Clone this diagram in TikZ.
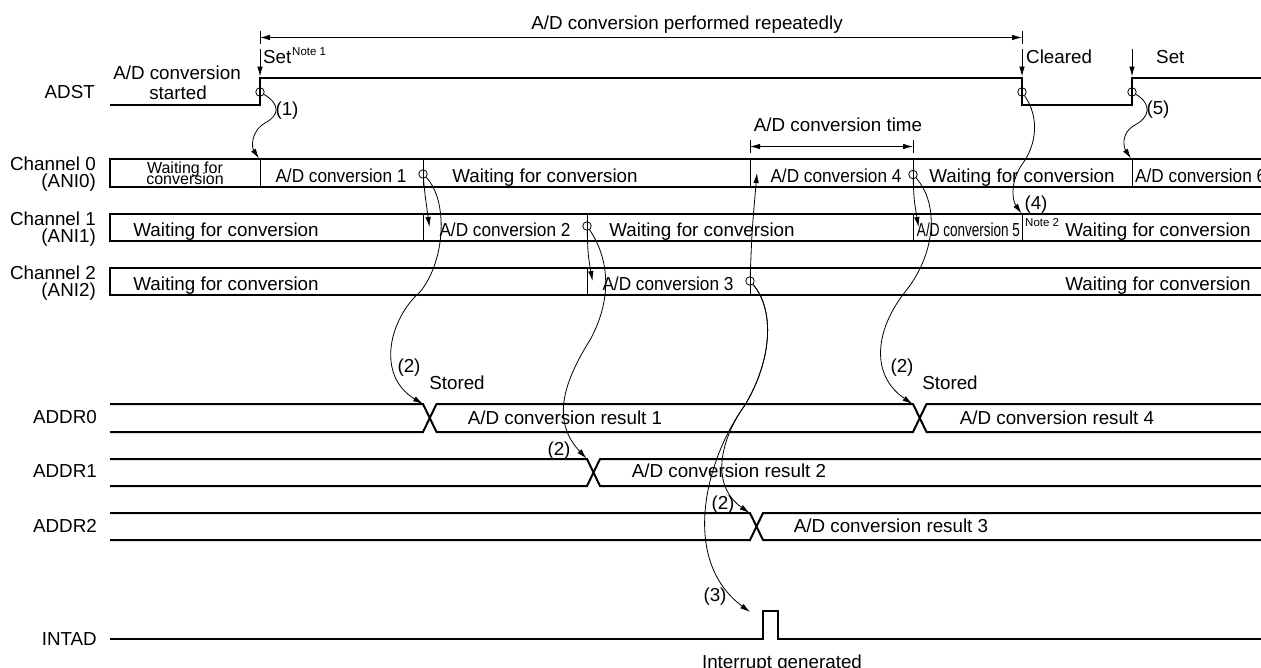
\documentclass[tikz,border=0pt]{standalone}
\usepackage{fontspec}
\setmainfont{Liberation Sans}
\usetikzlibrary{arrows.meta}
\newcommand\cvx[2]{\scalebox{#1}[1]{#2}}
\tikzset{
 sig/.style={line width=2pt, line join=miter},
 div/.style={line width=0.8pt},
 crv/.style={line width=0.8pt},
 tip/.style={-{Latex[length=10pt,width=5.5pt]}},
 tips/.style={{Latex[length=10pt,width=5.5pt]}-{Latex[length=10pt,width=5.5pt]}},
 cir/.style={circle, draw, line width=0.8pt, minimum size=8.5pt, inner sep=0pt},
 txt/.style={inner sep=0pt, font=\fontsize{18.8}{20}\selectfont, text height=13.5pt, text depth=0pt},
 lab/.style={txt, anchor=east},
 sm/.style={inner sep=0pt, font=\fontsize{11.5}{12}\selectfont, text height=8.2pt, text depth=0pt},
 wsm/.style={inner sep=0pt, font=\fontsize{16}{11}\selectfont, text height=11.5pt, text depth=0pt},
}
\begin{document}
\begin{tikzpicture}[x=1pt,y=-1pt]
\useasboundingbox (0,0) rectangle (1261,667);

% ---------- left labels
\node[lab] (lADST) at (95,91.5) {ADST};
\node[lab] (lC0a) at (96,164) {Channel 0};
\node[lab] (lC0b) at (96,181) {(ANI0)};
\node[lab] (lC1a) at (96,218.5) {Channel 1};
\node[lab] (lC1b) at (96,235.5) {(ANI1)};
\node[lab] (lC2a) at (96,273) {Channel 2};
\node[lab] (lC2b) at (96,290) {(ANI2)};
\node[lab] (lA0) at (97,417) {ADDR0};
\node[lab] (lA1) at (97,471) {ADDR1};
\node[lab] (lA2) at (97,526) {ADDR2};
\node[lab] (lINT) at (97,639) {INTAD};

% ---------- signals
\draw[sig] (110,105) -- (260,105) -- (260,77.5) -- (1022,77.5) -- (1022,105) -- (1132,105) -- (1132,77.5) -- (1265,77.5);
\draw[sig] (1265,159) -- (110,159) -- (110,187) -- (1265,187);
\draw[sig] (1265,214) -- (110,214) -- (110,241) -- (1265,241);
\draw[sig] (1265,268) -- (110,268) -- (110,295) -- (1265,295);
% channel dividers
\foreach \x in {260,423,750,913,1132} \draw[div] (\x,159) -- (\x,187);
\foreach \x in {423,587,913,1022} \draw[div] (\x,214) -- (\x,241);
\foreach \x in {587,750} \draw[div] (\x,268) -- (\x,295);
% ADDR buses
\draw[sig] (110,404) -- (423,404) -- (436.5,432) -- (913,432) -- (926.5,404) -- (1265,404);
\draw[sig] (110,432) -- (423,432) -- (436.5,404) -- (913,404) -- (926.5,432) -- (1265,432);
\draw[sig] (110,459) -- (587,459) -- (600,486) -- (1265,486);
\draw[sig] (110,486) -- (587,486) -- (600,459) -- (1265,459);
\draw[sig] (110,513) -- (750,513) -- (763,540) -- (1265,540);
\draw[sig] (110,540) -- (750,540) -- (763,513) -- (1265,513);
% INTAD
\draw[sig] (110,639) -- (763,639) -- (763,611) -- (778,611) -- (778,639) -- (1265,639);

% ---------- top annotations
\node[txt] (title) at (687,23) {A/D conversion performed repeatedly};
\coordinate (rL) at (260,37.5);
\coordinate (rR) at (1022,37.5);
\draw[crv,tips] (rL) -- (rR);
\draw[crv] (260,31) -- (260,44);
\draw[crv] (1022,31) -- (1022,44);

\node[txt,anchor=west] (set1) at (263,57) {Set};
\node[sm,anchor=west] (n1) at (292,51) {Note 1};
\node[txt,anchor=west] (clr) at (1026,57) {Cleared};
\node[txt,anchor=west] (set2) at (1156,57) {Set};
\coordinate (s1t) at (260,49);  \coordinate (s1b) at (260,76.5);
\coordinate (s2t) at (1022,49); \coordinate (s2b) at (1022,76.5);
\coordinate (s3t) at (1132,49); \coordinate (s3b) at (1132,76.5);
\draw[crv,tip] (s1t) -- (s1b);
\draw[crv,tip] (s2t) -- (s2b);
\draw[crv,tip] (s3t) -- (s3b);

\node[txt] (st1) at (177,73) {A/D conversion};
\node[txt] (st2) at (178,93) {started};

\node[txt] (p1) at (287,109) {(1)};
\node[txt] (p5) at (1158,108) {(5)};
\node[txt] (p4) at (1036,203) {(4)};

\node[txt] (tt) at (838,125) {A/D conversion time};
\coordinate (tL) at (750,146.5);
\coordinate (tR) at (913,146.5);
\draw[crv,tips] (tL) -- (tR);
\draw[crv] (750,140) -- (750,153);
\draw[crv] (913,140) -- (913,153);

% ---------- channel texts
\node[wsm] (w0a) at (185,168) {Waiting for};
\node[wsm] (w0b) at (185,178.5) {conversion};
\node[txt] (c01) at (341,175.5) {\cvx{0.915}{A/D conversion 1}};
\node[txt] (w01) at (545,175.5) {Waiting for conversion};
\node[txt] (c04) at (836,175.5) {\cvx{0.915}{A/D conversion 4}};
\node[txt] (w02) at (1022,175.5) {Waiting for conversion};
\node[txt,anchor=west] (c06) at (1135,175.5) {\cvx{0.915}{A/D conversion 6}};

\node[txt] (w10) at (226,230) {Waiting for conversion};
\node[txt] (c12) at (505,230) {\cvx{0.915}{A/D conversion 2}};
\node[txt] (w11) at (702,230) {Waiting for conversion};
\node[txt] (c15) at (968.5,230) {\cvx{0.72}{A/D conversion 5}};
\node[sm,anchor=west] (n2) at (1025,222) {Note 2};
\node[txt] (w12) at (1158,230) {Waiting for conversion};

\node[txt] (w20) at (226,284) {Waiting for conversion};
\node[txt] (c23) at (668,284) {\cvx{0.915}{A/D conversion 3}};
\node[txt] (w21) at (1158,284) {Waiting for conversion};

% ---------- ADDR texts
\node[txt] (r1) at (565,417.5) {A/D conversion result 1};
\node[txt] (r4) at (1057,417.5) {A/D conversion result 4};
\node[txt] (r2) at (729,471) {A/D conversion result 2};
\node[txt] (r3) at (891,526) {A/D conversion result 3};

\node[txt] (sto1) at (457,383) {Stored};
\node[txt] (sto2) at (950,383) {Stored};
\node[txt] (q1) at (409,366) {(2)};
\node[txt] (q2) at (559,449) {(2)};
\node[txt] (q3) at (723,503) {(2)};
\node[txt] (q4) at (902,366) {(2)};
\node[txt] (q5) at (715,595) {(3)};
\node[txt] (irq) at (782,662) {Interrupt generated};

% ---------- circles
\node[cir] (cE) at (260,92) {};
\node[cir] (cF) at (1022,92) {};
\node[cir] (cG) at (1132,92) {};
\node[cir] (cA) at (423,174) {};
\node[cir] (cB) at (587,226) {};
\node[cir] (cC) at (750,281) {};
\node[cir] (cD) at (913,174.5) {};

% ---------- targets
\coordinate (tE) at (259,158.5);
\coordinate (tG) at (1131,158.5);
\coordinate (tF) at (1021.5,213.5);
\coordinate (tA1) at (429.5,227);
\coordinate (tA2) at (423,404);
\coordinate (tB1) at (592.5,281);
\coordinate (tB2) at (586.5,458.5);
\coordinate (tC1) at (757,173);
\coordinate (tC2) at (749.5,513);
\coordinate (tI) at (750,612);
\coordinate (tD1) at (918.5,227);
\coordinate (tD2) at (912.5,404);

% ---------- connectors
\draw[crv,tip] (cE) .. controls (280,104) and (280,115) .. (265,123) .. controls (250,132) and (252,148) .. (tE);
\draw[crv,tip] (cG) .. controls (1152,104) and (1150,117) .. (1135,125) .. controls (1120,133) and (1124,148) .. (tG);
\draw[crv,tip] (cF) .. controls (1040,118) and (1036,145) .. (1023,163) .. controls (1010,181) and (1012,200) .. (tF);

\draw[crv,tip] (cA) .. controls (425,195) .. (tA1);
\draw[crv,tip] (cA) .. controls (448,200) and (446,260) .. (420,292) .. controls (390,318) and (375,375) .. (tA2);

\draw[crv,tip] (cB) .. controls (588,255) .. (tB1);
\draw[crv,tip] (cB) .. controls (610,260) and (612,300) .. (590,340) .. controls (565,380) and (550,420) .. (tB2);

\draw[crv,tip] (cC) .. controls (752,230) .. (tC1);
\draw[crv,tip] (cC) .. controls (775,310) and (772,360) .. (745,405) .. controls (720,440) and (710,485) .. (tC2);
\draw[crv,tip] (cC) .. controls (775,310) and (772,360) .. (745,405) .. controls (705,460) and (680,560) .. (tI);

\draw[crv,tip] (cD) .. controls (914,200) .. (tD1);
\draw[crv,tip] (cD) .. controls (940,205) and (935,255) .. (905,292) .. controls (875,330) and (870,375) .. (tD2);

\end{tikzpicture}
\end{document}
